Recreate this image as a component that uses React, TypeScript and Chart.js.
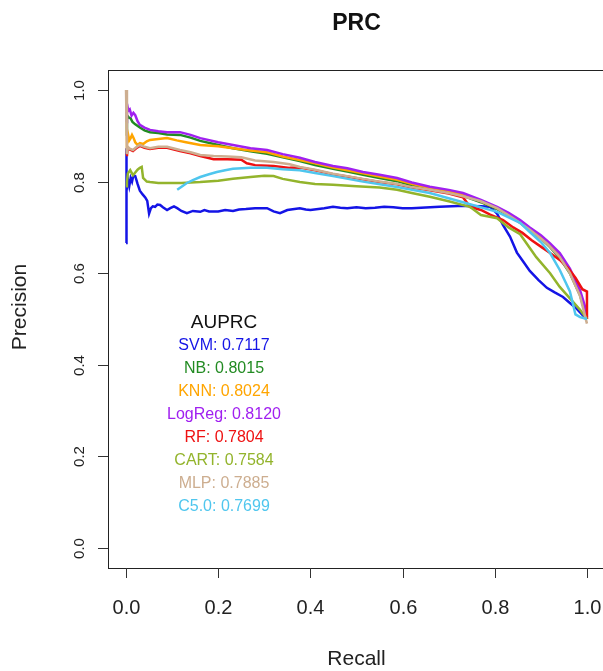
import React, { useEffect, useRef } from "react";
import { Chart, registerables } from "chart.js";
Chart.register(...registerables);

// ---- data (recall, precision) ----
const modelNames = ["SVM", "NB", "KNN", "LogReg", "RF", "CART", "MLP", "C5.0"];
const auprcValues = ["0.7117", "0.8015", "0.8024", "0.8120", "0.7804", "0.7584", "0.7885", "0.7699"];
const modelColors = ["#1414e6", "#228b22", "#ffa500", "#a020f0", "#ee1111", "#93b42c", "#cdae90", "#4fc6ee"];

const svmPR: [number, number][] = [
  [0, 0.666], [0, 0.873], [0.002, 0.78], [0.004, 0.805], [0.007, 0.79], [0.01, 0.808], [0.013, 0.8],
  [0.016, 0.814], [0.02, 0.812], [0.025, 0.795], [0.03, 0.78], [0.036, 0.772], [0.042, 0.765],
  [0.046, 0.758], [0.05, 0.73], [0.054, 0.742], [0.058, 0.746], [0.063, 0.745], [0.068, 0.75],
  [0.074, 0.749], [0.08, 0.744], [0.089, 0.738], [0.096, 0.742], [0.104, 0.746], [0.111, 0.742],
  [0.12, 0.736], [0.132, 0.731], [0.145, 0.736], [0.161, 0.734], [0.17, 0.738], [0.18, 0.735],
  [0.2, 0.735], [0.215, 0.738], [0.232, 0.736], [0.245, 0.739], [0.26, 0.74], [0.28, 0.742],
  [0.306, 0.742], [0.32, 0.735], [0.334, 0.731], [0.35, 0.738], [0.377, 0.742], [0.39, 0.739],
  [0.4, 0.738], [0.43, 0.742], [0.449, 0.745], [0.465, 0.743], [0.48, 0.742], [0.5, 0.744],
  [0.52, 0.742], [0.54, 0.743], [0.56, 0.745], [0.58, 0.744], [0.6, 0.742], [0.62, 0.742],
  [0.64, 0.743], [0.68, 0.745], [0.72, 0.747], [0.746, 0.747], [0.77, 0.746], [0.79, 0.745],
  [0.805, 0.73], [0.818, 0.705], [0.833, 0.68], [0.848, 0.645], [0.862, 0.625], [0.876, 0.605],
  [0.895, 0.585], [0.913, 0.568], [0.93, 0.558], [0.948, 0.548], [0.963, 0.535], [0.978, 0.522],
  [0.991, 0.508], [1.0, 0.5],
];

const nbPR: [number, number][] = [
  [0, 0.9], [0.002, 0.945], [0.006, 0.94], [0.01, 0.938], [0.014, 0.93], [0.02, 0.925], [0.03, 0.918],
  [0.04, 0.912], [0.052, 0.908], [0.07, 0.906], [0.089, 0.903], [0.117, 0.902], [0.14, 0.896],
  [0.161, 0.889], [0.2, 0.88], [0.232, 0.873], [0.27, 0.866], [0.306, 0.861], [0.34, 0.853],
  [0.377, 0.845], [0.41, 0.836], [0.449, 0.828], [0.48, 0.822], [0.514, 0.815], [0.55, 0.808],
  [0.588, 0.801], [0.62, 0.792], [0.659, 0.783], [0.7, 0.776], [0.731, 0.769], [0.77, 0.755],
  [0.805, 0.74], [0.83, 0.727], [0.855, 0.71], [0.876, 0.694], [0.9, 0.676], [0.92, 0.657],
  [0.941, 0.633], [0.963, 0.6], [0.985, 0.552], [1.0, 0.5],
];

const knnPR: [number, number][] = [
  [0, 0.86], [0.002, 0.913], [0.004, 0.905], [0.007, 0.89], [0.01, 0.895], [0.013, 0.902],
  [0.016, 0.896], [0.02, 0.886], [0.025, 0.88], [0.03, 0.884], [0.037, 0.882], [0.045, 0.888],
  [0.052, 0.891], [0.07, 0.893], [0.089, 0.895], [0.11, 0.89], [0.13, 0.886], [0.161, 0.88],
  [0.2, 0.877], [0.232, 0.873], [0.27, 0.868], [0.306, 0.864], [0.34, 0.855], [0.377, 0.847],
  [0.41, 0.84], [0.449, 0.831], [0.48, 0.825], [0.514, 0.818], [0.55, 0.811], [0.588, 0.804],
  [0.62, 0.795], [0.659, 0.786], [0.7, 0.779], [0.731, 0.772], [0.77, 0.757], [0.805, 0.742],
  [0.83, 0.728], [0.855, 0.712], [0.876, 0.696], [0.9, 0.678], [0.92, 0.66], [0.941, 0.637],
  [0.963, 0.603], [0.985, 0.555], [1.0, 0.5],
];

const logRegPR: [number, number][] = [
  [0, 0.93], [0.002, 0.97], [0.005, 0.955], [0.008, 0.958], [0.012, 0.944], [0.016, 0.95],
  [0.02, 0.945], [0.025, 0.932], [0.03, 0.924], [0.04, 0.918], [0.052, 0.913], [0.07, 0.91],
  [0.089, 0.908], [0.117, 0.908], [0.14, 0.902], [0.161, 0.895], [0.2, 0.886], [0.232, 0.88],
  [0.27, 0.873], [0.306, 0.869], [0.34, 0.86], [0.377, 0.852], [0.41, 0.843], [0.449, 0.834],
  [0.48, 0.829], [0.514, 0.821], [0.55, 0.815], [0.588, 0.808], [0.62, 0.798], [0.659, 0.789],
  [0.7, 0.782], [0.731, 0.775], [0.77, 0.76], [0.805, 0.745], [0.83, 0.732], [0.855, 0.716],
  [0.876, 0.7], [0.9, 0.683], [0.92, 0.665], [0.941, 0.644], [0.963, 0.61], [0.985, 0.563],
  [0.995, 0.53], [1.0, 0.504],
];

const rfPR: [number, number][] = [
  [0, 0.858], [0.002, 0.86], [0.004, 0.874], [0.008, 0.87], [0.015, 0.867], [0.022, 0.873],
  [0.03, 0.878], [0.04, 0.874], [0.052, 0.871], [0.07, 0.874], [0.089, 0.874], [0.117, 0.867],
  [0.14, 0.862], [0.161, 0.856], [0.19, 0.849], [0.22, 0.849], [0.25, 0.848], [0.262, 0.84],
  [0.28, 0.836], [0.32, 0.834], [0.355, 0.83], [0.377, 0.831], [0.41, 0.825], [0.449, 0.816],
  [0.48, 0.811], [0.514, 0.805], [0.55, 0.799], [0.588, 0.794], [0.62, 0.787], [0.659, 0.781],
  [0.7, 0.774], [0.731, 0.766], [0.746, 0.745], [0.77, 0.738], [0.79, 0.728], [0.818, 0.716],
  [0.84, 0.7], [0.86, 0.688], [0.88, 0.672], [0.9, 0.658], [0.92, 0.644], [0.941, 0.629],
  [0.96, 0.61], [0.975, 0.59], [0.99, 0.565], [1.0, 0.56], [1.0, 0.5],
];

const cartPR: [number, number][] = [
  [0, 0.79], [0.002, 0.8], [0.004, 0.818], [0.009, 0.825], [0.015, 0.814], [0.02, 0.82],
  [0.025, 0.826], [0.03, 0.83], [0.034, 0.832], [0.037, 0.808], [0.045, 0.8], [0.052, 0.799],
  [0.07, 0.797], [0.089, 0.797], [0.12, 0.797], [0.161, 0.799], [0.2, 0.802], [0.232, 0.806],
  [0.27, 0.81], [0.3, 0.813], [0.32, 0.812], [0.34, 0.806], [0.377, 0.799], [0.41, 0.795],
  [0.449, 0.793], [0.5, 0.79], [0.55, 0.787], [0.588, 0.782], [0.62, 0.775], [0.659, 0.767],
  [0.7, 0.757], [0.746, 0.745], [0.77, 0.727], [0.805, 0.72], [0.83, 0.7], [0.855, 0.685],
  [0.876, 0.655], [0.89, 0.635], [0.92, 0.6], [0.941, 0.57], [0.963, 0.545], [0.985, 0.52],
  [1.0, 0.5],
];

const mlpPR: [number, number][] = [
  [0, 1.0], [0.002, 0.86], [0.004, 0.876], [0.008, 0.872], [0.015, 0.869], [0.022, 0.875],
  [0.03, 0.88], [0.04, 0.876], [0.052, 0.873], [0.07, 0.876], [0.089, 0.876], [0.117, 0.869],
  [0.14, 0.864], [0.161, 0.858], [0.19, 0.856], [0.22, 0.855], [0.25, 0.853], [0.28, 0.846],
  [0.32, 0.843], [0.355, 0.838], [0.377, 0.832], [0.41, 0.826], [0.449, 0.817], [0.48, 0.812],
  [0.514, 0.806], [0.55, 0.8], [0.588, 0.795], [0.62, 0.788], [0.659, 0.782], [0.7, 0.775],
  [0.731, 0.768], [0.77, 0.757], [0.805, 0.742], [0.84, 0.72], [0.876, 0.695], [0.913, 0.665],
  [0.941, 0.635], [0.963, 0.6], [0.985, 0.55], [1.0, 0.49],
];

const c50PR: [number, number][] = [
  [0.111, 0.782], [0.122, 0.79], [0.132, 0.797], [0.145, 0.803], [0.161, 0.81], [0.18, 0.816],
  [0.197, 0.821], [0.215, 0.825], [0.232, 0.828], [0.27, 0.83], [0.306, 0.83], [0.34, 0.827],
  [0.377, 0.825], [0.41, 0.819], [0.449, 0.812], [0.514, 0.8], [0.588, 0.788], [0.659, 0.775],
  [0.731, 0.755], [0.805, 0.734], [0.855, 0.71], [0.876, 0.69], [0.9, 0.668], [0.92, 0.644],
  [0.941, 0.607], [0.963, 0.56], [0.975, 0.51], [0.985, 0.504], [1.0, 0.5],
];

const seriesPR = [svmPR, nbPR, knnPR, logRegPR, rfPR, cartPR, mlpPR, c50PR];

const xTickValues = [0, 0.2, 0.4, 0.6, 0.8, 1.0];
const xTickLabels = ["0.0", "0.2", "0.4", "0.6", "0.8", "1.0"];
const yTickValues = [0, 0.2, 0.4, 0.6, 0.8, 1.0];
const yTickLabels = ["0.0", "0.2", "0.4", "0.6", "0.8", "1.0"];

const TITLE = "PRC";
const X_TITLE = "Recall";
const Y_TITLE = "Precision";
const LEGEND_TITLE = "AUPRC";

const CANVAS_W = 620;
const CANVAS_H = 671;
const FONT = '"Liberation Sans", Arial, Helvetica, sans-serif';

const rAxesPlugin = {
  id: "rAxes",
  afterDraw(chart: any) {
    const ctx = chart.ctx as CanvasRenderingContext2D;
    const { left, right, top, bottom } = chart.chartArea;
    const xs = chart.scales.x;
    const ys = chart.scales.y;
    ctx.save();
    // box
    ctx.strokeStyle = "#222";
    ctx.lineWidth = 1;
    ctx.strokeRect(Math.round(left) + 0.5, Math.round(top) - 1.5, Math.round(right - left), Math.round(bottom - top) + 3);

    // x axis ticks
    ctx.strokeStyle = "#333";
    ctx.fillStyle = "#222";
    ctx.font = `20px ${FONT}`;
    ctx.textAlign = "center";
    ctx.textBaseline = "alphabetic";
    const by = Math.round(bottom) + 2;
    xTickValues.forEach((v, i) => {
      const px = Math.round(xs.getPixelForValue(v)) + 0.5;
      ctx.beginPath();
      ctx.moveTo(px, by);
      ctx.lineTo(px, by + 10);
      ctx.stroke();
      ctx.fillText(xTickLabels[i], px, 614);
    });
    // y axis ticks
    ctx.font = `15px ${FONT}`;
    const lx = Math.round(left);
    yTickValues.forEach((v, i) => {
      const py = Math.round(ys.getPixelForValue(v)) + 0.5;
      ctx.beginPath();
      ctx.moveTo(lx, py);
      ctx.lineTo(lx - 10, py);
      ctx.stroke();
      ctx.save();
      ctx.translate(84, py);
      ctx.rotate(-Math.PI / 2);
      ctx.textAlign = "center";
      ctx.textBaseline = "alphabetic";
      ctx.fillText(yTickLabels[i], 0, 0);
      ctx.restore();
    });

    // titles
    ctx.fillStyle = "#111";
    ctx.font = `bold 23px ${FONT}`;
    ctx.textAlign = "center";
    ctx.fillText(TITLE, (left + right) / 2, 30);
    ctx.font = `21px ${FONT}`;
    ctx.fillStyle = "#222";
    ctx.fillText(X_TITLE, (left + right) / 2, 665);
    ctx.save();
    ctx.translate(26, 307);
    ctx.rotate(-Math.PI / 2);
    ctx.textAlign = "center";
    ctx.fillText(Y_TITLE, 0, 0);
    ctx.restore();

    // AUPRC legend text
    const cx = 224;
    ctx.textAlign = "center";
    ctx.fillStyle = "#111";
    ctx.font = `19px ${FONT}`;
    ctx.fillText(LEGEND_TITLE, cx, 328);
    ctx.font = `16px ${FONT}`;
    modelNames.forEach((name, i) => {
      ctx.fillStyle = modelColors[i];
      ctx.fillText(`${name}: ${auprcValues[i]}`, cx, 350 + i * 23);
    });
    ctx.restore();
  },
};

export default function App() {
  const ref = useRef<HTMLCanvasElement>(null);
  useEffect(() => {
    const canvas = ref.current;
    if (!canvas) return;
    const n = seriesPR.length;
    const datasets = seriesPR.map((pr, i) => ({
      label: modelNames[i],
      data: pr.map(([r, p]) => ({ x: r, y: p })),
      borderColor: modelColors[i],
      backgroundColor: modelColors[i],
      borderWidth: 2.5,
      pointRadius: 0,
      fill: false,
      tension: 0,
      order: n - i,
    }));
    const chart = new Chart(canvas, {
      type: "line",
      data: { datasets },
      options: {
        responsive: false,
        animation: false,
        devicePixelRatio: 1,
        parsing: false as any,
        layout: { padding: { left: 107.6, right: CANVAS_W - 605.4, top: 71.7, bottom: CANVAS_H - 566.3 } },
        scales: {
          x: { type: "linear", min: -0.04, max: 1.04, display: false },
          y: { type: "linear", min: -0.04, max: 1.04, display: false },
        },
        plugins: { legend: { display: false }, tooltip: { enabled: false }, title: { display: false } },
        elements: { point: { radius: 0 }, line: { tension: 0 } },
      },
      plugins: [rAxesPlugin],
    } as any);
    return () => chart.destroy();
  }, []);
  return (
    <div style={{ position: "fixed", left: 0, top: 0, width: 603, height: 671, overflow: "hidden", background: "#fff" }}>
      <canvas ref={ref} width={CANVAS_W} height={CANVAS_H} style={{ display: "block" }} />
    </div>
  );
}
